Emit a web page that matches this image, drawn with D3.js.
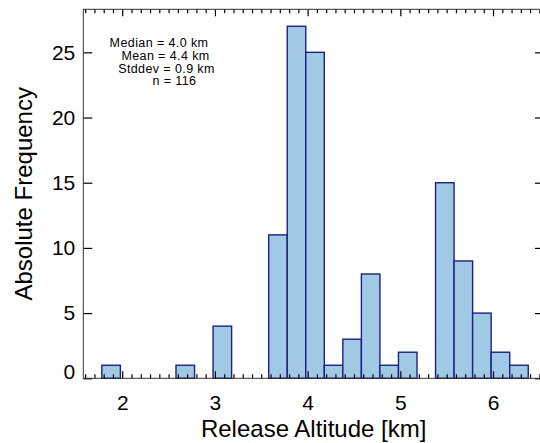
<!DOCTYPE html>
<html>
<head>
<meta charset="utf-8">
<script src="https://cdn.jsdelivr.net/npm/d3@7"></script>
<style>
    body { margin: 0; background: #fff; }
    svg { display: block; font-family: "Liberation Sans", Arial, sans-serif; }
</style>
</head>
<body>
<script>
// Histogram of release altitudes, 0.2 km bins (only non-empty bins listed)
const binLow = [1.78, 2.58, 2.98, 3.58, 3.78, 3.98, 4.18, 4.38, 4.58, 4.78, 4.98, 5.38, 5.58, 5.78, 5.98, 6.18];
const counts = [1, 1, 4, 11, 27, 25, 1, 3, 8, 1, 2, 15, 9, 5, 2, 1];
const binWidth = 0.2;

const xTicks = [2, 3, 4, 5, 6];
const yTicks = [0, 5, 10, 15, 20, 25];
const statLines = ["Median = 4.0 km", "Mean = 4.4 km", "Stddev = 0.9 km", "n = 116"];

const width = 540;
const height = 443;
const margin = {left: 83.3, right: -4, top: 9.3, bottom: 64.7};

const svg = d3.select("body").append("svg")
    .attr("width", width)
    .attr("height", height);

const x = d3.scaleLinear()
    .domain([1.58, 6.55])
    .range([margin.left, width - margin.right]);

const y = d3.scaleLinear()
    .domain([0, 28.3])
    .range([height - margin.bottom, margin.top]);

const bars = binLow.map((lo, i) => ({lo: lo, hi: lo + binWidth, n: counts[i]}));

// Bars
svg.append("g")
    .selectAll("rect")
    .data(bars)
    .join("rect")
    .attr("x", d => x(d.lo))
    .attr("y", d => y(d.n))
    .attr("width", d => x(d.hi) - x(d.lo))
    .attr("height", d => y(0) - y(d.n))
    .attr("fill", "#a0cae3")
    .attr("stroke", "#1c1f8a")
    .attr("stroke-width", 1.4);

// Minor x ticks every 0.1 km
const minorTicks = d3.range(16, 66).map(i => i / 10).filter(v => Math.abs(v - Math.round(v)) > 1e-6);

function styleAxis(g) {
    g.select(".domain").remove();
    g.selectAll("line").attr("stroke", "#000").attr("stroke-width", 1.2);
}

svg.append("g")
    .attr("transform", `translate(0,${y(0)})`)
    .call(d3.axisBottom(x).tickValues(minorTicks).tickSize(-4).tickFormat(""))
    .call(styleAxis);

svg.append("g")
    .attr("transform", `translate(0,${margin.top})`)
    .call(d3.axisTop(x).tickValues(minorTicks).tickSize(-4).tickFormat(""))
    .call(styleAxis);

svg.append("g")
    .attr("transform", `translate(0,${margin.top})`)
    .call(d3.axisTop(x).tickValues(xTicks).tickSize(-7).tickFormat(""))
    .call(styleAxis);

const xAxis = svg.append("g")
    .attr("transform", `translate(0,${y(0)})`)
    .call(d3.axisBottom(x).tickValues(xTicks).tickSize(-7).tickPadding(17).tickFormat(d3.format("d")))
    .call(styleAxis);

xAxis.selectAll("text")
    .attr("font-size", 21)
    .attr("font-family", "Liberation Sans, Arial, sans-serif")
    .attr("fill", "#000");

const yAxis = svg.append("g")
    .attr("transform", `translate(${margin.left},0)`)
    .call(d3.axisLeft(y).tickValues(yTicks).tickSize(-9).tickPadding(8).tickFormat(d3.format("d")))
    .call(styleAxis);

yAxis.selectAll("text")
    .attr("font-size", 21)
    .attr("font-family", "Liberation Sans, Arial, sans-serif")
    .attr("fill", "#000")
    .attr("y", d => d === 0 ? -7 : 0);

svg.append("g")
    .attr("transform", `translate(${width - margin.right},0)`)
    .call(d3.axisRight(y).tickValues(yTicks).tickSize(-9).tickFormat(""))
    .call(styleAxis);

// Frame
svg.append("rect")
    .attr("x", margin.left)
    .attr("y", margin.top)
    .attr("width", x.range()[1] - margin.left)
    .attr("height", y(0) - margin.top)
    .attr("fill", "none")
    .attr("stroke", "#333")
    .attr("stroke-width", 1);

// Axis titles
svg.append("text")
    .attr("x", (margin.left + x.range()[1]) / 2)
    .attr("y", 437)
    .attr("text-anchor", "middle")
    .attr("font-size", 24)
    .text("Release Altitude [km]");

svg.append("text")
    .attr("transform", `translate(32,${(margin.top + y(0)) / 2}) rotate(-90)`)
    .attr("text-anchor", "middle")
    .attr("font-size", 24)
    .text("Absolute Frequency");

// Summary statistics
const statX = [159, 165.5, 166.5, 174.5];
svg.append("g")
    .selectAll("text")
    .data(statLines)
    .join("text")
    .attr("x", (d, i) => statX[i])
    .attr("y", (d, i) => 47 + i * 12.8)
    .attr("text-anchor", "middle")
    .attr("font-size", 12.5)
    .attr("letter-spacing", 0.4)
    .text(d => d);
</script>
</body>
</html>
